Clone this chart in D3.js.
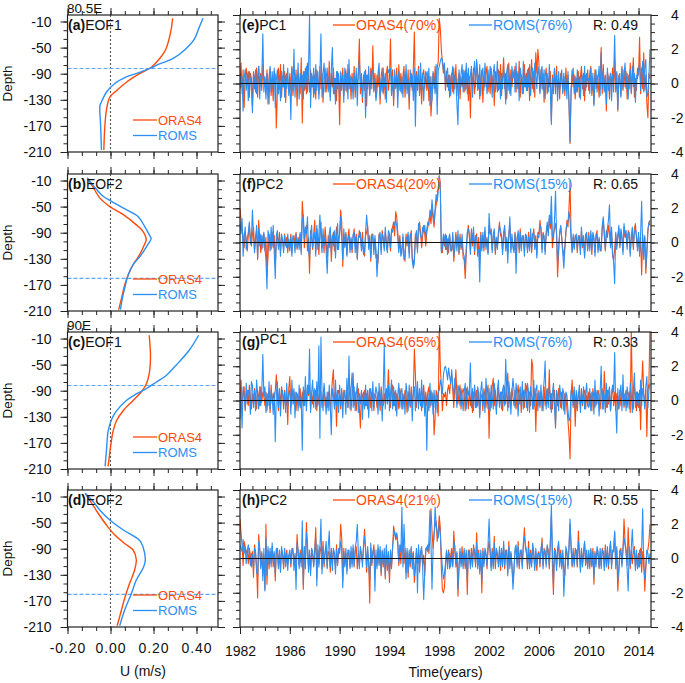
<!DOCTYPE html>
<html><head><meta charset="utf-8">
<script src="https://cdn.jsdelivr.net/npm/d3@7"></script>
<style>body{margin:0;background:#fff}svg{display:block;font-family:"Liberation Sans",Arial,Helvetica,sans-serif}</style>
</head><body><svg id="c" width="685" height="683"></svg>
<script>
// ---------- EOF vertical profiles (depth in m, U in m/s) ----------
const aOrasZ=[-5,-26,-52,-67,-80,-90,-103,-116,-126,-144,-169,-207];
const aOrasU=[.289,.28,.258,.228,.19,.135,.074,.028,-.003,-.018,-.026,-.031];
const aRomsZ=[-5,-21,-37,-52,-67,-75,-81,-88,-95,-105,-118,-133,-139,-169,-207];
const aRomsU=[.43,.41,.39,.35,.29,.228,.19,.135,.074,.02,-.018,-.042,-.049,-.046,-.042];
const bOrasZ=[-6,-21,-37,-50,-62,-78,-88,-101,-108,-124,-139,-155,-170,-191,-208];
const bOrasU=[-.108,-.08,-.049,-.003,.058,.12,.151,.166,.158,.135,.105,.082,.066,.051,.038];
const bRomsZ=[-6,-21,-34,-42,-52,-65,-80,-93,-99,-108,-124,-139,-155,-175,-191,-208];
const bRomsU=[-.108,-.072,-.034,.005,.058,.128,.158,.18,.189,.174,.143,.105,.082,.066,.055,.046];
const cOrasZ=[-5,-38,-64,-80,-92,-105,-121,-136,-152,-172,-206];
const cOrasU=[.18,.186,.18,.166,.143,.105,.058,.028,.012,.002,-.011];
const cRomsZ=[-5,-28,-51,-67,-77,-87,-95,-105,-121,-134,-152,-178,-206];
const cRomsU=[.41,.366,.305,.258,.212,.166,.12,.074,.028,.005,-.011,-.018,-.025];
const dOrasZ=[-5,-20,-36,-54,-69,-82,-92,-107,-123,-143,-166,-190,-208];
const dOrasU=[-.118,-.088,-.057,-.018,.02,.066,.105,.12,.112,.089,.066,.046,.031];
const dRomsZ=[-5,-18,-31,-46,-61,-77,-87,-107,-118,-138,-159,-184,-208];
const dRomsU=[-.118,-.08,-.049,-.003,.058,.135,.151,.162,.154,.12,.097,.066,.043];
const markDepth=[-82,-160,-82,-160];

// ---------- PC time series, monthly Jan 1982 - Dec 2014 ----------
const eOras=[
-.3,1.2,-.6,.8,-1.4,.4,.9,.1,.7,-.8,.6,.3,
-1.3,.7,.3,-.5,.9,-.8,1.0,-.2,.6,-.4,1.1,.2,
.3,-.6,.8,-1.2,.4,.9,-.7,.3,-1.0,.7,.5,-2.6,
-.5,.9,-.3,1.1,-.8,.4,-.2,.7,-1.1,.6,.2,-.4,
.6,-.4,1.0,-.7,.3,-.2,.8,-1.3,.5,.2,-.6,1.5,
-2.3,.7,-.4,.9,-.6,1.2,.3,-.5,.8,-.2,.4,-.8,
.5,-.9,.8,.3,-.6,1.0,-.3,.6,-1.1,.4,.9,-.5,
.4,-.3,1.3,-.8,.6,-.2,.9,-.6,.3,-1.0,.7,.2,
-2.4,.6,-.4,.9,-.7,.3,.8,-.5,1.1,-.3,.5,-.9,
.6,-.5,1.0,-.8,.4,-.2,.7,2.6,-.6,.3,-1.1,.5,
-.4,.8,-1.3,.5,.2,-.6,.9,-.3,2.2,-.5,.6,-.8,
.5,-.2,.7,-1.2,.4,.9,-.6,.3,-.9,.6,1.0,-.4,
.3,2.6,-.5,.8,-1.3,.4,-.2,.9,-.7,1.1,-.4,.6,
-.6,.4,1.0,-.8,.5,-.3,.8,-1.5,.3,.6,-.4,.9,
3.0,-.9,.7,-.4,1.0,-.6,.3,-1.2,.5,.8,-.3,.6,
-.4,.7,-1.0,.4,-1.9,-.8,.6,-.3,1.0,-.5,.9,1.3,
3.8,3.2,2.0,1.2,.6,1.0,-.4,.7,-.2,.5,-.8,.3,
.6,-.5,.9,-.3,1.1,-.7,.2,.6,-.9,.4,-.2,.8,
-.5,.8,-.3,.6,-1.0,.4,-2.0,.7,-.2,.9,-.6,.3,
1.2,-.4,.5,-.9,.3,.8,-1.1,.4,-.2,.6,1.0,-.5,
.3,-.6,.9,-.2,.5,-1.3,.7,.2,-.5,.8,-.3,1.1,
-.7,.4,1.5,-.3,.6,-.9,.3,1.2,-.6,.8,-.2,.5,
.4,1.0,-.5,.7,-.3,1.3,-.8,.5,.2,-.6,1.1,-.2,
.6,-.4,.9,-1.0,.5,1.4,-.3,.7,-.8,1.8,.6,2.0,
1.2,-.5,.8,-.3,.6,-1.1,.4,.9,-.6,.3,-.2,.7,
-2.2,.5,-.3,.8,-.6,1.0,-.4,.3,-.9,.6,.2,-.5,
.4,-.7,.9,-.3,.5,-1.3,-3.5,-.6,.8,-.2,.5,-.9,
.3,-.5,.7,-.8,.4,1.0,-.3,.6,-1.0,.5,-.2,.8,
-.4,.6,1.0,-.7,.3,-1.2,.8,-.3,.5,.2,-.8,.6,
2.1,-.6,1.1,-.4,.5,-1.6,.7,.3,-.9,.6,-.2,.9,
-.5,1.4,-.3,.6,-1.6,.5,.2,-.7,1.0,-.4,.8,-.2,
.7,-.9,.5,-.3,1.2,-.6,.4,1.5,-.8,.3,-.4,.9,
.5,2.7,-.6,.9,-.3,1.8,-.4,.5,-1.2,-2.0,.6,.3];
const eRoms=[
.5,-.2,.4,-1.6,.3,.8,-.4,.6,-1.0,.7,.2,-.3,
-1.7,.6,-.3,.8,-.6,.4,1.0,-.9,.5,.3,2.9,-.5,
.4,-.9,.6,.2,-1.2,1.0,-.5,.7,-.3,.9,-1.4,.2,
.8,-.6,.3,-1.0,.7,-.2,1.1,-.8,.5,-.3,.9,-.7,
.2,-2.1,.9,-.4,2.0,-.8,.5,-.3,1.2,-.9,.6,-.2,
.5,-.9,.7,-.3,1.0,-.5,.8,4.0,-1.4,.6,-.2,.9,
-.6,1.1,-.4,.7,-.9,.5,2.9,-.8,.6,1.2,-.5,.3,
.9,-.5,.4,-1.0,.8,2.1,-.6,.3,-1.2,.7,-.3,.6,
-.8,.7,-.2,.5,-1.1,.9,-.4,.6,-.9,1.4,-.3,.4,
.3,-.9,.6,-.4,.9,-1.3,.5,1.4,-.2,.6,-.8,.3,
.7,-2.0,.5,-.3,1.0,-.7,.4,.8,.6,-.4,.3,-1.0,
-.4,.6,1.2,-.8,.3,-.5,.9,-.2,.6,-1.1,.5,.8,
.6,.9,-.7,.4,-1.0,.8,-.3,.5,-1.4,.7,.2,-.5,
.4,-.8,.7,-.3,1.1,-.6,.2,-.9,.8,-.2,.5,-1.0,
.9,-2.5,.5,-.2,.8,-.7,1.2,-.4,.6,-1.0,.3,.7,
.5,-.3,.9,-1.3,.4,-1.0,.7,.2,-.6,1.1,-1.8,.8,
1.0,1.3,1.5,1.4,.8,1.2,-.3,.6,.9,-.4,.5,-.7,
.4,1.0,-.6,.5,.3,-1.2,-2.4,.8,-.3,.6,1.1,-.5,
.7,-.4,1.2,-.6,.9,-.3,.5,1.0,-.8,.4,1.3,-.2,
1.4,.6,-.3,1.1,-.7,.5,.9,-.4,1.2,.3,-.6,.8,
-.2,1.0,.4,-.8,.6,1.1,-.5,.3,1.3,-.4,.7,-.9,
.6,-.3,.9,.2,-1.2,.7,1.1,-.4,.5,-.7,1.0,.3,
.8,-.5,1.2,-.3,.6,-1.0,.9,.4,-.6,1.3,-.2,.5,
-.4,.8,-.2,1.1,-.7,.3,.9,-.5,1.2,.6,-.3,1.0,
.5,-.6,.7,1.0,-.4,.8,-.9,.3,.6,-.5,1.1,-.3,
-2.4,.3,-.6,.9,-.2,.5,-1.0,.7,-.4,.3,.8,-.6,
.6,-.4,.3,-.9,.7,-1.1,-3.4,-.3,.5,.9,-.6,.4,
-.5,.8,-.2,.4,-.9,.6,.3,-.7,1.0,-.4,.6,.2,
.3,-.6,.9,-.4,.6,-1.3,.4,.8,-.5,.3,1.0,-.7,
1.8,-.3,.7,-.5,.4,-1.2,.9,-.4,.3,.6,-1.0,.5,
.4,2.8,-.5,.7,-1.5,.3,.6,-.8,.9,-.3,.5,1.2,
-.3,.6,-.9,.4,.8,-.5,1.0,-.2,.6,-1.1,.5,.3,
.7,1.2,-.4,.6,1.3,-.5,.9,1.4,-.8,-.6,.4,2.0];
const fOras=[
2.0,1.3,.8,.4,-.3,.6,.2,-.5,.4,1.0,.3,-.2,
.5,.9,-.4,.3,.7,-1.0,1.3,.2,-.6,.4,-.3,.5,
-.5,.3,-2.0,-.8,.5,.2,-.4,.6,-.3,.4,-1.3,.1,
.4,-.2,.6,-.5,.3,.1,-.4,.5,-.2,.3,-.6,.2,
-.3,.5,-.6,.2,.4,-.2,.6,-.4,.3,-.1,.5,-.5,
2.4,1.4,-.3,.6,1.0,-.5,.3,-1.8,.7,.2,-.4,.5,
1.3,-.5,.8,.2,-.7,.6,1.2,-.3,.4,-.6,.9,.1,
-.9,.4,-.3,.7,-1.1,.3,.6,-.5,.2,.9,-.4,.3,
.4,1.9,1.2,-1.4,.5,-.2,.6,-.7,.3,.8,-.4,.2,
-.6,.3,.8,-.2,.5,-.9,.2,.7,.4,-.3,.6,-.5,
-.8,.4,.6,1.0,-.2,.4,-1.1,.3,.5,-.4,.2,-.9,
-.7,-1.2,.5,.3,-.4,.7,.2,-.3,.6,.1,-.5,.4,
.2,-.5,.6,.9,1.2,.4,1.8,1.5,.6,-.3,.4,-.6,
-.4,.3,-.8,-1.1,.5,-.2,.4,-.6,.3,.7,-.9,-1.3,
-.9,.5,.3,-.4,.8,1.2,.6,-.3,.4,1.0,.5,-.2,
.6,.9,1.3,1.6,1.1,2.0,1.4,.9,1.8,2.2,2.6,3.2,
3.9,3.5,-.4,-.6,.3,-.2,.5,-.4,.2,-.6,.4,-.3,
-.5,.4,-1.1,-.3,.6,-.2,.3,-.7,.5,-.4,.2,-.9,
-1.0,-2.1,-.6,.4,1.0,.3,-.5,.8,-.2,.6,-.7,.3,
.5,-.8,.3,-1.2,.6,-.3,.4,-.5,.7,-.2,.3,-.6,
1.0,.5,.8,-.4,.3,.6,-.7,.2,-.3,.5,1.2,.4,
.3,-.5,.4,.8,-.3,.2,-.6,.5,1.0,-.4,.3,-.2,
-.4,.6,-.9,.3,.5,-.6,.8,-.3,.4,.2,-.5,.3,
.2,-.4,.6,-.3,.5,-.6,.3,.8,-.2,.4,-.7,.6,
.5,1.3,.7,-.4,.6,.2,-.5,.4,1.0,.6,1.4,.8,
1.6,-.3,.4,.8,1.1,.5,-2.0,-.6,.6,.9,.3,-.4,
-.8,-.2,.5,1.3,.9,2.0,3.6,.4,-.5,.3,-.3,.4,
.3,-.6,.4,.2,-.5,.7,-.3,.2,-.8,.5,.3,-.4,
.6,-.3,.5,-.7,.4,.2,-.6,.3,.7,-.4,.2,-.5,
-.3,.8,1.2,.4,-.5,.7,.3,1.0,.5,-.2,.6,-.8,
-1.0,-.4,.5,-.2,.4,.8,-.3,.6,.2,-.5,.9,.3,
.5,-.2,.7,.4,-.6,.3,.6,-.4,.8,1.1,.2,-.3,
.4,-.6,.3,-1.9,.5,-.4,.3,-1.8,-.7,.6,1.2,1.0];
const fRoms=[
1.2,.5,1.4,-.8,.3,.9,-.4,.2,.6,1.2,-.1,.3,
1.9,.4,-.6,.2,1.0,-.9,.8,-.2,.5,-.4,.3,.6,
-.3,-1.0,-2.7,.7,.3,-.5,.9,-.2,1.0,-.6,-2.1,.4,
.7,-.4,.3,-.8,.5,.2,-.6,.4,0,-.3,.5,-.2,
-.5,.3,-.8,.4,.1,-.6,.5,-.3,.2,-.4,.6,-.7,
1.2,1.6,.2,.9,.5,1.5,-.4,-.9,.4,1.0,-.3,.2,
.6,-.8,1.0,-.4,.5,1.6,.3,-.6,.8,-.2,.4,-.5,
-1.8,-.3,.5,.9,-.6,.4,-.2,.7,-.9,.3,1.1,-.4,
.6,1.5,.4,-1.0,.8,-.3,.5,-.8,.2,.4,-.6,.3,
-.4,.5,.6,-.6,.3,-1.0,.4,.3,.6,-.5,.2,-.7,
-.5,.6,1.6,.8,-.4,.3,-.9,.5,.2,-.7,.4,-.4,
-2.0,-.8,.4,.6,-.7,.5,.3,-.5,.9,-.2,-.6,.7,
.5,-.3,.8,.6,.9,1.1,1.3,1.0,.3,-.6,.2,-.8,
-.6,.5,-1.0,-.7,.3,.2,.6,-.9,.5,.4,-1.1,-1.5,
-1.2,.3,.7,-.6,1.1,.8,.4,.2,.9,.6,1.0,.3,
.8,1.2,1.0,1.9,1.5,2.5,1.7,1.2,2.0,2.8,2.4,3.0,
3.9,3.0,-.6,-.3,.5,.3,-.4,.4,-.7,.2,.5,-.5,
-.4,.6,-.8,-.2,.4,-.5,.7,-.6,.3,-.3,.5,-.6,
-.8,-1.5,-.3,.6,.8,.5,-.7,.6,.1,.9,-.5,.4,
.3,-.6,-.4,-2.3,.4,-.5,.6,-.3,.9,-.4,.2,-.7,
1.7,.6,.4,-.6,.5,.8,-.5,.3,-.4,.6,1.0,.7,
.4,-.7,.6,1.0,-.5,.3,-1.2,.4,1.5,-.6,.5,-.3,
-.6,.5,-1.8,.2,.7,-.4,.6,-.5,.3,.4,-.8,.5,
.4,-.6,.3,-.5,.8,-.4,.5,.6,-.4,.2,-.9,.4,
.3,1.0,.9,-.6,.5,.4,-.7,.6,1.2,.4,1.6,1.1,
2.7,.4,.2,1.3,3.0,.6,-1.2,-.3,.5,1.0,.2,-.6,
-1.5,-.4,.7,1.1,1.2,1.8,1.3,.2,-.6,.5,-.4,.3,
.5,-.4,.3,.4,-.7,.9,-.2,.4,-.9,.3,.6,-.5,
.4,-.5,.7,-.4,.6,.3,-.8,.5,.4,-.6,.3,-.3,
-.5,1.0,1.5,.6,-.4,.5,.8,1.3,2.2,-.3,.9,-.6,
-1.2,-2.4,.6,-.4,.3,1.0,-.2,.8,.4,-.7,1.1,.5,
.7,-.4,.5,.6,-.8,.4,.9,-.2,.6,.8,.4,-.5,
.6,-.8,.5,2.4,-.3,-1.0,.4,-1.5,-.5,.8,1.1,1.3];
const gOras=[
-.2,1.2,-.4,.5,.8,-.6,.3,.6,-.3,.9,.2,-.5,
.4,-.2,.7,.3,-.5,.6,.2,-.3,.8,-.1,.5,.3,
-.3,.5,-.6,.4,.2,-.7,.9,-.2,.4,.1,.6,1.5,
.3,-.6,.5,-.2,.8,.4,-.5,.6,-.3,.2,-1.4,.7,
1.4,-.4,.3,.6,-.2,.5,-.6,.4,.2,-.3,.7,-.5,
.5,-.3,.6,.2,-.4,.8,.3,.9,-.5,.4,-.2,.6,
.3,.6,-.6,.4,-.2,.7,.5,-.4,.3,.8,-.3,.2,
-.4,.5,.2,-.6,.3,1.2,1.8,-.3,.5,-1.5,.4,.6,
.2,-.5,.7,-.3,.4,.6,-.2,.5,-.4,.3,.8,-.6,
.4,1.6,-.3,.5,-.6,.2,.7,-.4,-1.6,.5,.3,-.2,
.6,-.3,.4,-.5,.2,.7,-.4,.5,.3,-.6,.4,.2,
-.4,.5,.3,-.6,.8,.2,-.3,.4,-.2,.6,.3,1.8,
.3,-.4,.6,.9,-.3,.5,-.6,.4,.2,-.5,.7,.3,
-.5,.4,-.2,.6,.3,-.7,.5,.2,-.4,.8,-.3,.4,
3.0,1.5,-.4,.6,-.2,.5,.3,-.6,.4,.9,-.3,.5,
-.3,.5,.8,-.4,.6,-.2,.4,-2.0,-1.0,.6,.3,-.9,
4.5,2.0,.8,-.6,.4,.2,.5,-.3,.6,.9,.4,1.2,
1.5,.6,-.4,.8,1.8,.3,-.2,.5,.9,-.5,.4,.7,
.4,-.6,.7,.2,-.5,.6,-.3,.4,-.7,.5,.3,-.4,
.6,-.3,.5,-.8,.4,.2,-.6,.7,.3,-.4,.5,.9,
-2.2,.5,-.4,.8,1.3,-.3,.6,-.5,.2,.7,-.3,.4,
.5,-.6,.3,.8,-.2,.6,1.6,-.4,.5,-.3,.7,.2,
-.3,.6,-.5,.4,.9,-.2,.5,-.7,.3,.6,-.4,1.0,
.8,-.6,.3,.5,-.3,2.4,2.0,-.5,.7,-1.8,.4,-.3,
.6,-.4,.5,.2,-.6,.8,-.3,.4,.7,-.2,1.8,-.5,
.4,-.5,.3,.6,-1.6,.5,-.3,.7,.2,-.4,.5,.3,
-.6,.4,.2,-.5,-1.2,-2.0,-3.4,.3,1.2,-.4,.6,-1.5,
.3,-.6,.5,.2,-.4,.7,-.3,.4,.6,-.5,.3,-.2,
.5,-.3,.4,-.6,.7,.2,-.4,.5,-.2,.6,.3,-.5,
.4,.7,-.5,1.7,.3,-.4,.6,-.2,.5,-.6,.4,.8,
-.3,.5,-.6,.4,.2,-.5,.6,-.3,.4,.7,-.4,.3,
.6,-.4,.3,.5,-.7,4.2,.4,-.5,.8,.3,-.6,.5,
-.4,.6,-1.7,.9,2.3,.4,-.3,.6,-2.1,.5,1.0,4.3];
const gRoms=[
-1.1,.5,-1.6,.8,.3,-.5,1.0,-.2,.6,.4,-.8,1.1,
.9,-.4,.6,-.6,1.2,.3,-.5,.8,-.3,.5,2.7,.2,
.8,-.7,.4,-.3,1.1,-.5,.6,.2,-.8,.5,-2.4,.3,
1.1,-.4,.7,-.9,.3,.6,-.2,.5,-.7,1.0,-.3,.4,
.6,-.8,1.2,-.2,.7,-1.0,.5,.3,-.6,.9,-.4,.2,
-2.9,.8,-.3,1.4,-.6,.9,.4,3.0,-.7,.5,1.2,-.4,
.7,-.5,1.1,-.3,3.2,-2.2,3.7,.4,-.6,1.0,.2,-.8,
.5,-.6,.9,-.4,-2.0,.7,.3,-.5,1.2,-.3,.6,-.7,
.9,-.3,.5,-1.0,.6,.2,-.8,1.3,-.4,2.6,-.5,.7,
1.6,-.4,.8,-.6,.3,1.0,-.7,.4,-.2,.6,-1.1,.5,
-.5,.9,-.3,.6,-1.0,.4,.7,-.6,1.1,-.4,.3,.8,
.4,-.8,1.0,-.3,.6,-1.2,.5,3.3,-.5,.7,-.2,.9,
-.6,.4,1.2,-.5,.8,-.3,.6,-.9,.3,1.0,-.4,.5,
.7,-.5,.3,-.8,1.0,.4,-.6,.9,-.3,.5,-1.2,.6,
.8,-.6,.4,1.1,-.5,.7,-.3,1.2,-.4,.6,-.9,.3,
-2.9,.4,-.6,1.0,-.3,.5,-.8,.6,-.4,.3,-.7,.5,
.6,1.2,.9,.4,1.5,1.9,2.0,1.7,1.2,1.9,1.4,1.0,
1.8,.8,.3,1.3,.5,-.4,.9,.6,-.3,.7,.2,-.6,
.5,1.0,-.5,.8,.3,.6,2.2,-.4,.7,-.6,.9,.3,
-.4,.8,.4,-1.0,.6,1.1,-.3,.5,-.7,1.3,.2,-.5,
.7,-.6,.9,.3,-.5,1.0,.4,-.8,.6,1.2,-.4,.5,
-.5,.6,.9,-.3,2.4,.7,-.6,1.1,.4,-.8,.5,1.3,
.6,-.4,1.0,.3,-.9,.5,.8,-.3,1.1,-.5,.4,.7,
-.4,1.0,.5,-.7,.8,.3,-.5,1.2,-.3,.6,.9,-.6,
.5,-.3,.9,-.6,.4,1.1,2.3,-.5,.6,-.4,.8,.3,
-.7,.4,1.0,-.3,-1.5,.6,.2,-.6,.9,.3,-.5,.7,
.4,-.8,.5,.3,-.6,-1.2,-1.0,.6,.4,-.3,.8,-.5,
.6,-.4,.3,.9,-.7,.5,-.2,.8,-.5,.4,1.0,-.3,
-.4,.7,-.6,.5,.3,-.8,1.2,-.3,.6,.4,-.9,.5,
2.0,-.5,.6,.3,-.7,1.0,-.4,.5,.8,-.6,.3,.9,
.5,2.8,-.4,-1.9,.7,-.5,.4,.9,-.6,1.5,-.3,.4,
-.6,.8,.3,-.5,1.0,.4,-.7,.6,1.6,-.4,.5,-.3,
.4,-.6,1.2,-.3,.7,.3,-.5,.8,1.4,-.4,.6,1.0];
const hOras=[
2.3,1.5,.8,-.4,1.0,.7,.3,.5,-.3,.6,.2,-.5,
.4,-1.1,.8,.3,-.5,-2.3,1.4,.6,-.4,.3,-1.0,.2,
-1.8,2.0,-1.5,.5,-.6,.4,-.3,.7,-.5,.2,-1.3,.4,
.6,-.4,.3,-.7,.5,.2,-.6,.4,-.2,.5,-.3,.1,
.3,-.5,.4,.6,-.3,.2,-.6,1.4,.3,-.4,.5,-.2,
.5,-1.8,.4,-.3,2.1,.6,-.5,.3,-.7,.4,.2,-.4,
.6,1.8,-1.2,.5,-.3,.7,.4,-.6,1.0,-.5,.3,.6,
-.5,.4,.3,-.8,.6,-.3,.5,.2,-.6,.8,-.4,.3,
.5,2.0,1.2,-1.3,.6,-.4,.3,-.7,.5,.2,-.5,.4,
-.3,.6,-.5,.4,.7,-.6,.3,-.4,.5,.3,-.2,.6,
1.7,.4,-.8,.5,-.3,-2.6,.6,-.4,.3,.8,-.5,.2,
-.4,.6,-.3,.5,-1.0,.4,-.5,.3,-1.2,.6,-.7,.2,
-1.4,.3,-.6,.5,1.9,1.5,1.1,1.4,.8,-.4,.6,-.3,
1.0,.5,-.3,.6,-.8,.4,-1.1,.3,-.5,.6,-.2,.4,
-1.4,-.6,.4,-.3,.6,-.8,.3,.5,-.4,.2,-1.0,.6,
.5,.8,.3,1.2,2.9,1.6,.6,1.5,1.9,2.2,1.0,1.6,
2.5,1.8,-.6,-1.8,-2.0,-1.7,-.5,.4,-.3,.5,-.6,.2,
.6,-.4,1.6,.5,-.5,.3,-2.2,-.6,.4,-.3,.7,-.4,
.4,-.6,.3,-2.1,.5,.2,-.4,.6,-.3,.8,.3,-.5,
1.5,-.4,.5,-.7,.3,-2.0,.6,-.3,.4,.2,-.6,.5,
1.0,.3,-.5,.6,-.4,1.3,-.6,.4,.2,-.3,.5,-.7,
.4,-.3,.8,-.6,.3,.5,-.8,1.0,-.4,.3,-.5,-1.4,
-.5,.4,.6,-.3,1.0,-.6,.3,.5,-.4,.7,1.8,.6,
.3,-.6,1.0,-.4,.5,-.3,.7,.2,-.5,.4,-.7,.3,
.4,-.5,.3,1.2,-.4,.6,.2,-.3,.7,.5,-.6,.8,
2.5,-.4,-2.1,.6,.3,-.5,.4,.8,-.3,.5,-.6,.3,
-.6,-1.0,.5,.3,-.4,.6,2.0,.8,-.5,.4,-.3,.6,
.4,-.5,1.6,.3,-.6,.5,-.3,.4,.9,-.4,.3,-.5,
.3,-.6,.5,-.4,.6,-1.5,.4,-.3,.5,.2,-.6,.4,
-.4,.6,.3,-.5,.8,-.3,.5,-.6,.4,.9,-.4,.3,
.6,1.5,-.4,.5,-1.9,-.8,.4,.6,-.3,.5,2.3,1.0,
.5,-.4,1.8,.3,-.6,.5,-.3,.4,.7,-.5,.3,-.4,
.3,-.5,.6,-.8,.4,.2,-1.9,-.6,.3,.5,1.0,2.0];
const hRoms=[
.8,.6,.4,1.1,.3,.7,-.3,.5,.8,.2,-.4,.3,
.2,-.6,.6,.4,-.8,-1.0,1.0,.5,-.6,.4,-1.3,.6,
-1.9,1.2,-1.0,.7,-.3,.6,-.5,.9,-.2,.4,-.9,.6,
.4,-.6,.5,-.8,.7,.3,-.4,.6,-.5,.3,-.7,.2,
.5,-.3,.6,.4,-.7,.3,-1.8,.9,.5,-.6,.3,-.5,
2.2,-1.5,.7,-.6,1.5,.9,-.8,.5,-1.0,.6,.4,-.5,
.4,1.2,-1.6,.8,-.5,.6,2.3,-.9,.7,-.3,.4,1.0,
-.6,.7,1.6,-.5,.4,-.7,.6,.3,-.9,.5,-.3,.6,
.3,1.0,.6,-1.7,.4,-.5,.6,-.9,.3,.5,-.6,.7,
-.5,.8,-.4,.6,1.0,2.0,.4,-.6,.7,.3,-.5,.8,
1.3,.6,-.5,.7,-.4,-1.2,.9,-.3,.4,.6,-1.9,.5,
-.6,.8,-.4,.7,-.8,.5,-.3,.6,-1.0,.8,-.5,.4,
-1.0,.5,-.4,.7,1.3,1.6,1.2,1.5,1.0,-.2,.8,.4,
3.0,-.5,2.0,.4,-1.2,.6,-.8,.5,-.3,.7,-.6,.3,
-1.0,-.4,.6,-2.0,.8,-.5,.4,.7,-.6,-2.4,-.8,.4,
.7,.4,1.0,2.8,.9,-1.8,.5,1.3,3.0,2.0,1.5,1.2,
2.0,1.4,.3,-.5,-1.2,-.9,-.3,.5,-.6,.4,.2,-.5,
.3,-.5,1.0,.7,-.3,.4,-1.8,-.4,.6,-.5,.3,-.6,
.6,-.4,.5,-1.2,.3,.5,-.6,.4,-.5,.6,.5,-.3,
.9,-.6,.3,-.9,.5,-1.3,.4,-.5,.6,.3,-.4,.8,
2.3,.5,-.7,.4,-.6,.9,-.4,.6,.3,-.5,.7,-.4,
.6,-.5,1.0,-.4,.5,.3,-1.0,.7,-.6,.4,-.3,-1.8,
-.8,.6,.8,-.5,.7,-.4,.5,.3,-.6,.9,1.3,.8,
.5,-.4,.6,-.6,.3,-.5,.9,.4,-.7,.6,-.4,.2,
.3,-.3,.6,.9,-.6,.4,.5,-.5,.8,.3,-.4,1.0,
3.1,.6,-1.5,.4,.5,-.7,.6,1.0,-.5,.3,-.4,.5,
-2.2,-.8,.7,.4,-.6,.8,2.3,.5,-.4,.6,-.5,.3,
.5,-.4,1.0,.5,-.8,.6,-.5,.3,1.0,-.3,.5,-.6,
.5,-.4,.6,-.5,.4,-1.1,.3,-.5,.7,.4,-.5,.6,
-.6,.5,.4,-.7,.6,-.5,.7,-.4,.3,1.0,-.6,.5,
.4,1.6,-.6,.7,-1.3,-.6,.5,.3,-.5,.6,1.2,.8,
.3,-.6,-1.9,.7,-.4,.6,1.7,.3,.5,-.7,.5,-.6,
-.4,.5,-.3,.6,2.9,-.5,-1.2,-.4,.5,.3,-.3,.3];

// ---------- labels ----------
const eofLetters=["a","b","c","d"], eofNames=["EOF1","EOF2","EOF1","EOF2"];
const pcLetters=["e","f","g","h"], pcNames=["PC1","PC2","PC1","PC2"];
const orasPct=["70%","20%","65%","21%"], romsPct=["76%","15%","76%","15%"];
const rVals=["0.49","0.65","0.33","0.55"];
const depthTicks=[-10,-50,-90,-130,-170,-210];
const uTicks=[-0.2,0,0.2,0.4];
const pcTicks=[-4,-2,0,2,4];
const yearTicks=[1982,1986,1990,1994,1998,2002,2006,2010,2014];

const profiles=[[aOrasZ,aOrasU,aRomsZ,aRomsU],[bOrasZ,bOrasU,bRomsZ,bRomsU],[cOrasZ,cOrasU,cRomsZ,cRomsU],[dOrasZ,dOrasU,dRomsZ,dRomsU]];
const pcs=[[eOras,eRoms],[fOras,fRoms],[gOras,gRoms],[hOras,hRoms]];

const ORC="#ff4a0a", RMC="#2b8ff5";
const svg=d3.select("#c");
const tops=[15,174,332,490], H=137;
const LX0=67.5, LX1=218, RX0=240, RX1=651;
const xU=d3.scaleLinear().domain([-0.2,0.5]).range([LX0,LX1]);
const xT=d3.scaleLinear().domain([1982,2015]).range([RX0,RX1]);
const uMinor=d3.range(0,11).map(k=>-0.2+k*0.2/3);
const dMinor=d3.range(0,16).map(k=>-10-k*40/3);
const yrMinor=d3.range(1982,2015);
const pcMinor=d3.range(-4,4.01,0.5);

function styleAxis(g,fs){g.select(".domain").remove();g.selectAll("line").attr("stroke","#222").attr("stroke-width",1);
 g.selectAll("text").attr("fill","#111").style("font-size",fs||"14px").style("font-family",'"Liberation Sans",Arial,sans-serif');}

tops.forEach((top,r)=>{
 const bot=top+H;
 const yD=d3.scaleLinear().domain([0,-210]).range([top,bot]);
 const yP=d3.scaleLinear().domain([-4,4]).range([bot,top]);
 // ----- left panel -----
 const gl=svg.append("g");
 gl.append("g").attr("transform",`translate(0,${bot})`).call(d3.axisBottom(xU).tickValues(uMinor).tickSize(4).tickFormat("")).call(styleAxis);
 gl.append("g").attr("transform",`translate(0,${bot})`).call(d3.axisBottom(xU).tickValues(uTicks).tickSize(7).tickPadding(9).tickFormat(r===3?(d=>d.toFixed(2)):"")).call(g=>styleAxis(g)).selectAll("text").style("letter-spacing","0.9px");
 gl.append("g").attr("transform",`translate(0,${top})`).call(d3.axisTop(xU).tickValues(uMinor).tickSize(4).tickFormat("")).call(styleAxis);
 gl.append("g").attr("transform",`translate(0,${top})`).call(d3.axisTop(xU).tickValues(uTicks).tickSize(7).tickFormat("")).call(styleAxis);
 gl.append("g").attr("transform",`translate(${LX0},0)`).call(d3.axisLeft(yD).tickValues(dMinor).tickSize(4).tickFormat("")).call(styleAxis);
 gl.append("g").attr("transform",`translate(${LX0},0)`).call(d3.axisLeft(yD).tickValues(depthTicks).tickSize(7).tickPadding(9).tickFormat(d=>String(d))).call(styleAxis);
 gl.append("g").attr("transform",`translate(${LX1},0)`).call(d3.axisRight(yD).tickValues(dMinor).tickSize(4).tickFormat("")).call(styleAxis);
 gl.append("g").attr("transform",`translate(${LX1},0)`).call(d3.axisRight(yD).tickValues(depthTicks).tickSize(7).tickFormat("")).call(styleAxis);
 gl.append("line").attr("x1",xU(0)).attr("x2",xU(0)).attr("y1",top).attr("y2",bot).attr("stroke","#555").attr("stroke-width",1.1).attr("stroke-dasharray","2,2");
 gl.append("line").attr("x1",LX0).attr("x2",LX1).attr("y1",yD(markDepth[r])).attr("y2",yD(markDepth[r])).attr("stroke","#5aa8ff").attr("stroke-width",1.1).attr("stroke-dasharray","4,2");
 const [oz,ou,rz,ru]=profiles[r];
 const prof=(zs,us)=>d3.line().x(d=>xU(d[1])).y(d=>yD(d[0])).curve(d3.curveCatmullRom.alpha(0.5))(zs.map((z,i)=>[z,us[i]]));
 gl.append("path").attr("d",prof(oz,ou)).attr("fill","none").attr("stroke",ORC).attr("stroke-width",1.4);
 gl.append("path").attr("d",prof(rz,ru)).attr("fill","none").attr("stroke",RMC).attr("stroke-width",1.4);
 gl.append("rect").attr("x",LX0).attr("y",top).attr("width",LX1-LX0).attr("height",H).attr("fill","none").attr("stroke","#222").attr("stroke-width",1.2);
 // legend
 [[ORC,"ORAS4",105],[RMC,"ROMS",120.5]].forEach(([c,t,dy])=>{
  gl.append("line").attr("x1",133).attr("x2",157).attr("y1",top+dy).attr("y2",top+dy).attr("stroke",c).attr("stroke-width",1.3);
  gl.append("text").attr("x",158).attr("y",top+dy+4.5).attr("fill",c).style("font-size","13px").text(t);
 });
 const tl=gl.append("text").attr("x",68).attr("y",top+15).style("font-size","14px").attr("fill","#111");
 tl.append("tspan").style("font-weight","bold").text(`(${eofLetters[r]})`);
 tl.append("tspan").text(eofNames[r]);
 gl.append("text").attr("transform",`translate(12,${top+H/2}) rotate(-90)`).attr("text-anchor","middle").style("font-size","13.5px").attr("fill","#111").text("Depth");

 // ----- right panel -----
 const gr=svg.append("g");
 gr.append("g").attr("transform",`translate(0,${bot})`).call(d3.axisBottom(xT).tickValues(yrMinor).tickSize(4).tickFormat("")).call(styleAxis);
 gr.append("g").attr("transform",`translate(0,${bot})`).call(d3.axisBottom(xT).tickValues(yearTicks).tickSize(7).tickPadding(12).tickFormat(r===3?(d=>String(d)):"")).call(styleAxis);
 gr.append("g").attr("transform",`translate(0,${top})`).call(d3.axisTop(xT).tickValues(yrMinor).tickSize(4).tickFormat("")).call(styleAxis);
 gr.append("g").attr("transform",`translate(0,${top})`).call(d3.axisTop(xT).tickValues(yearTicks).tickSize(7).tickFormat("")).call(styleAxis);
 gr.append("g").attr("transform",`translate(${RX0},0)`).call(d3.axisLeft(yP).tickValues(pcMinor).tickSize(4).tickFormat("")).call(styleAxis);
 gr.append("g").attr("transform",`translate(${RX0},0)`).call(d3.axisLeft(yP).tickValues(pcTicks).tickSize(7).tickFormat("")).call(styleAxis);
 gr.append("g").attr("transform",`translate(${RX1},0)`).call(d3.axisRight(yP).tickValues(pcMinor).tickSize(4).tickFormat("")).call(styleAxis);
 gr.append("g").attr("transform",`translate(${RX1},0)`).call(d3.axisRight(yP).tickValues(pcTicks).tickSize(7).tickPadding(13).tickFormat(d=>String(d))).call(styleAxis);
 const cid="clip"+r;
 gr.append("clipPath").attr("id",cid).append("rect").attr("x",RX0).attr("y",top).attr("width",RX1-RX0).attr("height",H);
 const [so,sr]=pcs[r];
 const ts=d3.line().x((d,i)=>xT(1982+i/12)).y(d=>yP(d));
 const cg=gr.append("g").attr("clip-path",`url(#${cid})`);
 cg.append("path").attr("d",ts(so)).attr("fill","none").attr("stroke",ORC).attr("stroke-width",1.1).attr("stroke-linejoin","round");
 cg.append("path").attr("d",ts(sr)).attr("fill","none").attr("stroke",RMC).attr("stroke-width",1.1).attr("stroke-linejoin","round");
 gr.append("line").attr("x1",RX0).attr("x2",RX1).attr("y1",yP(0)).attr("y2",yP(0)).attr("stroke","#111").attr("stroke-width",1.2);
 gr.append("rect").attr("x",RX0).attr("y",top).attr("width",RX1-RX0).attr("height",H).attr("fill","none").attr("stroke","#222").attr("stroke-width",1.2);
 const tr=gr.append("text").attr("x",242).attr("y",top+15).style("font-size","14px").attr("fill","#111");
 tr.append("tspan").style("font-weight","bold").text(`(${pcLetters[r]})`);
 tr.append("tspan").attr("dy",r===2?-3:0).text(pcNames[r]);
 gr.append("line").attr("x1",333).attr("x2",355).attr("y1",top+10).attr("y2",top+10).attr("stroke",ORC).attr("stroke-width",1.3);
 gr.append("text").attr("x",356).attr("y",top+15).attr("fill",ORC).style("font-size","14px").text(`ORAS4(${orasPct[r]})`);
 gr.append("line").attr("x1",469).attr("x2",492).attr("y1",top+10).attr("y2",top+10).attr("stroke",RMC).attr("stroke-width",1.3);
 gr.append("text").attr("x",493).attr("y",top+15).attr("fill",RMC).style("font-size","14px").text(`ROMS(${romsPct[r]})`);
 gr.append("text").attr("x",593).attr("y",top+15).attr("fill","#111").style("font-size","14px").text(`R: ${rVals[r]}`);
});
svg.append("text").attr("x",67).attr("y",12.5).style("font-size","13.5px").attr("fill","#111").text("80.5E");
svg.append("text").attr("x",67).attr("y",330).style("font-size","13.5px").attr("fill","#111").text("90E");
svg.append("text").attr("x",143).attr("y",676).attr("text-anchor","middle").style("font-size","14px").attr("fill","#111").text("U (m/s)");
svg.append("text").attr("x",445.5).attr("y",677).attr("text-anchor","middle").style("font-size","14px").attr("fill","#111").text("Time(years)");
</script></body></html>
